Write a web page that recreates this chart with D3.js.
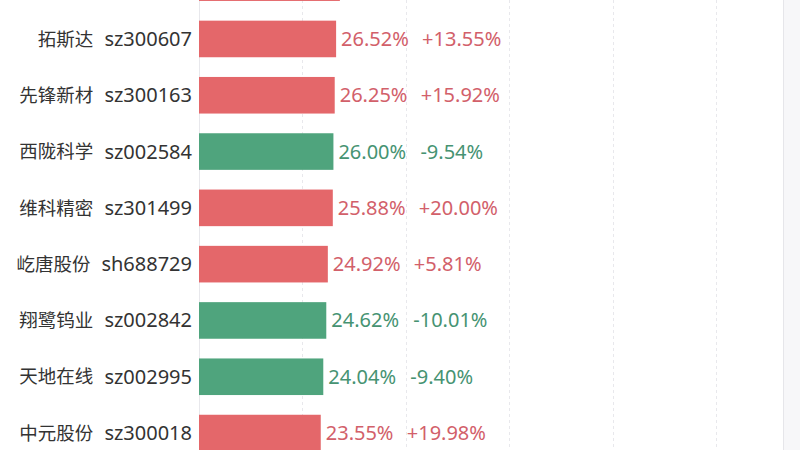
<!DOCTYPE html>
<html>
<head>
<meta charset="utf-8">
<script src="https://cdn.jsdelivr.net/npm/d3@7"></script>
<style>
html,body{margin:0;padding:0;background:#fff;}
svg{display:block;}
text{font-family:"Noto Sans","Noto Sans CJK SC",sans-serif;}
</style>
</head>
<body>
<svg id="chart" width="800" height="450"></svg>
<script>
// Data (top row is only partially visible in the reference; its labels are off-screen)
const names   = ["", "拓斯达", "先锋新材", "西陇科学", "维科精密", "屹唐股份", "翔鹭钨业", "天地在线", "中元股份"];
const codes   = ["", "sz300607", "sz300163", "sz002584", "sz301499", "sh688729", "sz002842", "sz002995", "sz300018"];
const values  = [27.25, 26.52, 26.25, 26.00, 25.88, 24.92, 24.62, 24.04, 23.55];
const changes = [null, 13.55, 15.92, -9.54, 20.00, 5.81, -10.01, -9.40, 19.98];
const xTicks  = [0, 20, 40, 60, 80, 100];

const rows = names.map((n, i) => ({i, name: n, code: codes[i], value: values[i], change: changes[i]}));

const svg = d3.select("#chart");
const RED = "#e4676a", GREEN = "#4fa47d";
const RED_T = "#d2606a", GREEN_T = "#469372";

// right side panel edge
svg.append("rect").attr("x", 783).attr("y", 0).attr("width", 17).attr("height", 450).attr("fill", "#f7f7f9");
svg.append("line").attr("x1", 783.5).attr("x2", 783.5).attr("y1", 0).attr("y2", 450)
  .attr("stroke", "#e6e6ea").attr("stroke-width", 1);

const x = d3.scaleLinear().domain([0, 100]).range([199, 716]);
const y = d3.scaleBand().domain(rows.map(d => d.i)).range([-45.5, 461.2])
  .paddingInner(0.35).paddingOuter(0.175);

// grid
svg.append("g").selectAll("line").data(xTicks).join("line")
  .attr("x1", d => Math.round(x(d)) + 0.5).attr("x2", d => Math.round(x(d)) + 0.5)
  .attr("y1", 0).attr("y2", 450)
  .attr("stroke", "#e8e8ec").attr("stroke-width", 1)
  .attr("stroke-dasharray", d => d === 0 ? null : "3,3");

// bars
const isUp = d => d.change === null || d.change >= 0;
svg.append("g").selectAll("rect").data(rows).join("rect")
  .attr("x", x(0)).attr("y", d => y(d.i))
  .attr("width", d => x(d.value) - x(0)).attr("height", y.bandwidth())
  .attr("fill", d => isUp(d) ? RED : GREEN);

const fs = 20, fsName = 18.5;
const labeled = rows.filter(d => d.name !== "");

// category labels: name + code
const lab = svg.append("g").selectAll("g").data(labeled).join("g")
  .attr("transform", d => `translate(0,${y(d.i) + y.bandwidth() / 2})`);
lab.append("text").attr("class", "code")
  .attr("x", 192).attr("dy", "0.35em").attr("text-anchor", "end")
  .attr("font-size", fs).attr("fill", "#333").text(d => d.code);
lab.each(function () {
  const g = d3.select(this);
  const w = g.select("text.code").node().getComputedTextLength();
  g.append("text").attr("x", 192 - w - 11).attr("dy", "0.36em").attr("text-anchor", "end")
    .attr("font-size", fsName).attr("fill", "#333").text(d => d.name);
});

// value labels
const fmtChg = v => (v >= 0 ? "+" : "") + v.toFixed(2) + "%";
const vl = svg.append("g").selectAll("g").data(labeled).join("g")
  .attr("transform", d => `translate(${x(d.value)},${y(d.i) + y.bandwidth() / 2})`);
vl.append("text").attr("x", 5).attr("dy", "0.35em").attr("font-size", fs)
  .attr("fill", d => isUp(d) ? RED_T : GREEN_T).text(d => d.value.toFixed(2) + "%");
vl.append("text").attr("x", d => d.change >= 0 ? 86 : 87).attr("dy", "0.35em").attr("font-size", fs)
  .attr("fill", d => isUp(d) ? RED_T : GREEN_T).text(d => fmtChg(d.change));
</script>
</body>
</html>
